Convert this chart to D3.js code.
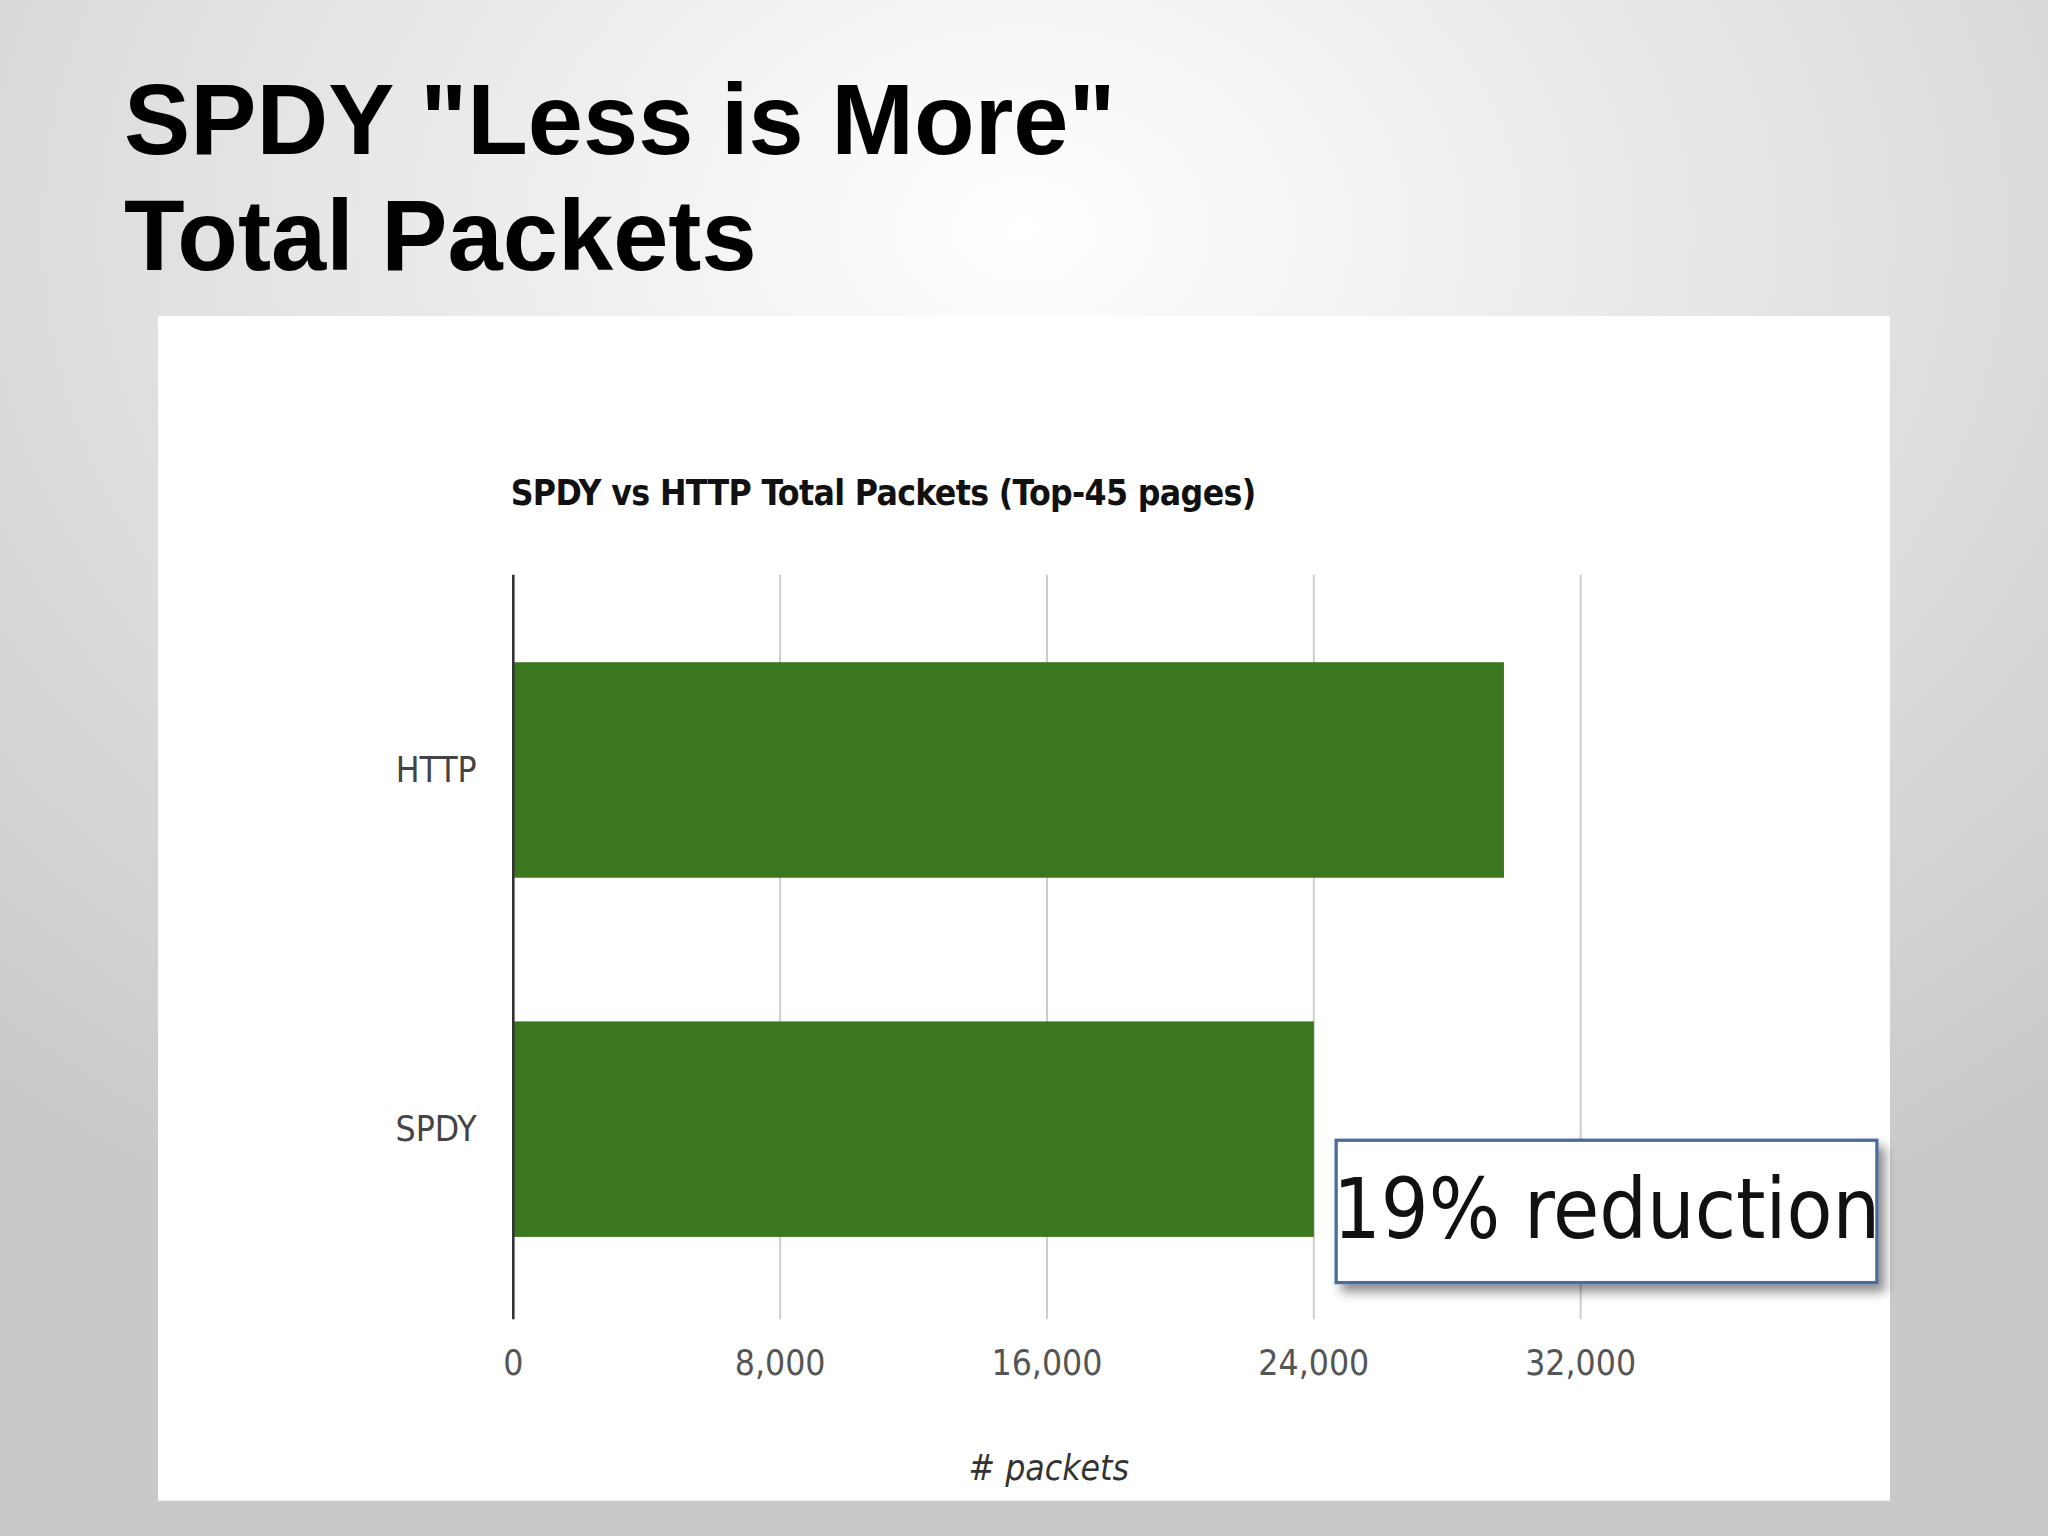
<!DOCTYPE html>
<html>
<head>
<meta charset="utf-8">
<script src="https://cdn.jsdelivr.net/npm/d3@7"></script>
<style>
  html, body { margin: 0; padding: 0; overflow: hidden; }
</style>
</head>
<body>
<div id="chart"></div>
<script>
// slide: SPDY vs HTTP total packets

const categories = ['HTTP', 'SPDY']
const packets = [29700, 24000]
const tickValues = [0, 8000, 16000, 24000, 32000]

const W = 1568, H = 1176
const narrow = '"Liberation Sans Narrow", "DejaVu Sans Condensed", "Liberation Sans", sans-serif'

const svg = d3.select('#chart')
	.append('svg')
	.attr('width', 2048)
	.attr('height', 1536)
	.attr('viewBox', `0 0 ${W} ${H}`)

const defs = svg.append('defs')
const grad = defs.append('radialGradient')
	.attr('id', 'bg')
	.attr('cx', '50%').attr('cy', '15%').attr('r', '75%')
grad.append('stop').attr('offset', '0%').attr('stop-color', '#ffffff')
grad.append('stop').attr('offset', '100%').attr('stop-color', '#c9c9c9')

const shadow = defs.append('filter').attr('id', 'shadow')
	.attr('x', '-10%').attr('y', '-10%').attr('width', '130%').attr('height', '140%')
shadow.append('feDropShadow')
	.attr('dx', 5).attr('dy', 6).attr('stdDeviation', 4)
	.attr('flood-color', '#000').attr('flood-opacity', 0.45)

svg.append('rect').attr('width', W).attr('height', H).attr('fill', 'url(#bg)')

// slide title
svg.append('text').attr('x', 95).attr('y', 118)
	.attr('style', 'font: bold 76px "Liberation Sans", Arial, sans-serif')
	.text('SPDY "Less is More"')
svg.append('text').attr('x', 95).attr('y', 207)
	.attr('style', 'font: bold 76px "Liberation Sans", Arial, sans-serif')
	.text('Total Packets')

// white panel
svg.append('rect').attr('x', 121).attr('y', 242).attr('width', 1326).attr('height', 907).attr('fill', '#fff')

svg.append('text').attr('x', 391).attr('y', 387)
	.attr('style', `font: bold 27px ${narrow}; letter-spacing: -0.5px`)
	.attr('fill', '#111')
	.text('SPDY vs HTTP Total Packets (Top-45 pages)')

const x0 = 393, plotTop = 440, plotBottom = 1010

let xScale = d3.scaleLinear()
	.domain([0, 8000])
	.range([x0, 597.3])

let yScale = d3.scaleBand()
	.domain(categories)
	.range([plotTop + 12, plotBottom - 8])
	.paddingInner(0.4)
	.paddingOuter(0.2)

// gridlines
svg.selectAll('line.grid')
	.data(tickValues.slice(1))
	.enter()
	.append('line')
	.attr('x1', d => xScale(d)).attr('x2', d => xScale(d))
	.attr('y1', plotTop).attr('y2', plotBottom)
	.attr('stroke', '#cccccc').attr('stroke-width', 1.5)

svg.selectAll('rect.bar')
	.data(packets)
	.enter()
	.append('rect')
	.attr('x', xScale(0))
	.attr('y', (d, i) => yScale(categories[i]))
	.attr('width', d => xScale(d) - xScale(0))
	.attr('height', yScale.bandwidth())
	.attr('fill', '#3b771e')

svg.append('line')
	.attr('x1', x0).attr('x2', x0).attr('y1', plotTop).attr('y2', plotBottom)
	.attr('stroke', '#333').attr('stroke-width', 2)

// category labels
svg.selectAll('text.cat')
	.data(categories)
	.enter()
	.append('text')
	.attr('x', 365)
	.attr('y', d => yScale(d) + yScale.bandwidth() / 2)
	.attr('dy', '0.35em')
	.attr('text-anchor', 'end')
	.attr('style', `font: 27px ${narrow}`)
	.attr('fill', '#444')
	.text(d => d)

// tick labels
svg.selectAll('text.tick')
	.data(tickValues)
	.enter()
	.append('text')
	.attr('x', d => xScale(d))
	.attr('y', 1053)
	.attr('text-anchor', 'middle')
	.attr('style', `font: 27px ${narrow}`)
	.attr('fill', '#555')
	.text(d => d3.format(',')(d))

svg.append('text').attr('x', 803).attr('y', 1133)
	.attr('text-anchor', 'middle')
	.attr('style', `font: italic 27px ${narrow}`)
	.attr('fill', '#333')
	.text('# packets')

// callout
svg.append('rect').attr('x', 1023).attr('y', 873).attr('width', 414).attr('height', 109)
	.attr('fill', '#fff').attr('stroke', '#4a6d9a').attr('stroke-width', 2.5)
	.attr('filter', 'url(#shadow)')
svg.append('text').attr('x', 1230).attr('y', 948)
	.attr('text-anchor', 'middle')
	.attr('style', `font: 64px ${narrow}`)
	.attr('fill', '#111')
	.text('19% reduction')
</script>
</body>
</html>
